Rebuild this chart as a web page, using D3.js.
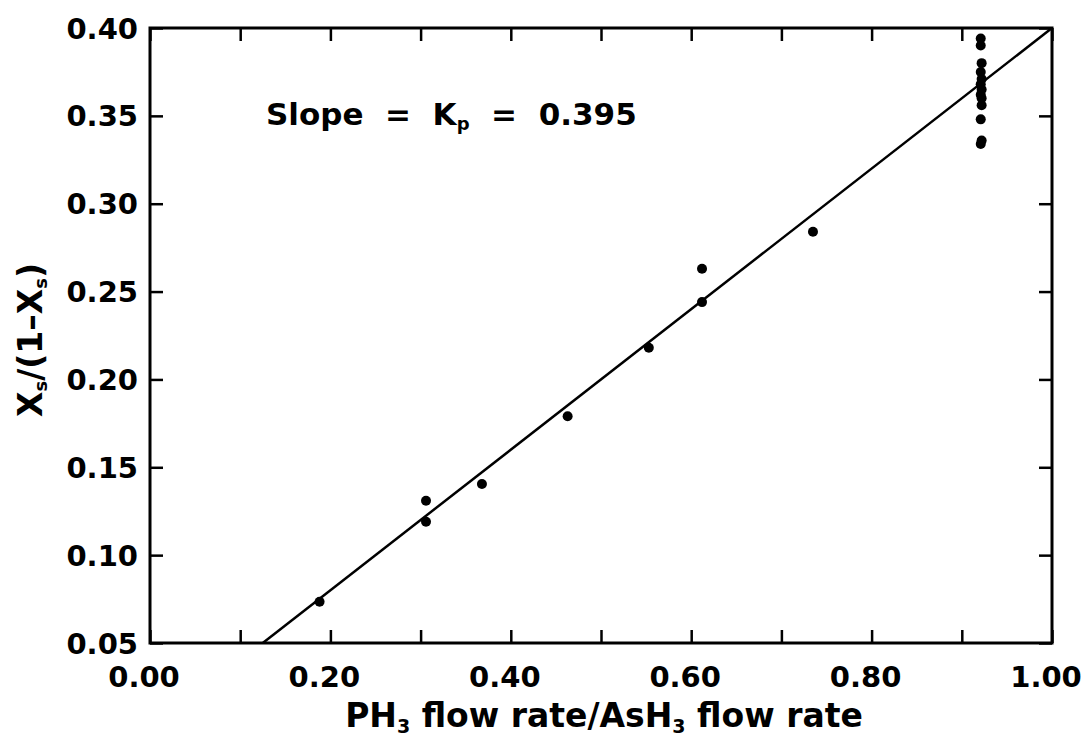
<!DOCTYPE html>
<meta charset="utf-8">
<title>Kp plot</title>
<style>
  body { margin: 0; background: #fff; }
  text { font-family: "DejaVu Sans", sans-serif; font-weight: bold; fill: #000; }
</style>
<body>
<script src="https://d3js.org/d3.v7.min.js"></script>
<script>
// flow-rate ratio vs Xs/(1-Xs)
var ratio = [0.188, 0.306, 0.306, 0.368, 0.463, 0.553, 0.612, 0.612, 0.735,
             0.921, 0.921, 0.922, 0.921, 0.922, 0.921, 0.922, 0.921, 0.922, 0.921, 0.922, 0.921, 0.922];
var xsRatio = [0.0735, 0.131, 0.119, 0.1405, 0.179, 0.218, 0.263, 0.244, 0.284,
               0.394, 0.390, 0.380, 0.375, 0.371, 0.368, 0.365, 0.362, 0.356, 0.348, 0.336, 0.334, 0.360];
var fitX = [0.125, 1.00];
var fitY = [0.05, 0.40];
var xTicks = [0, 0.2, 0.4, 0.6, 0.8, 1.0];
var xMinor = [0.1, 0.3, 0.5, 0.7, 0.9];
var yTicks = [0.05, 0.10, 0.15, 0.20, 0.25, 0.30, 0.35, 0.40];

var W = 1084, H = 745;
var pLeft = 150, pRight = 1052, pTop = 28, pBottom = 643;

var svg = d3.select('body').append('svg')
  .attr('width', W)
  .attr('height', H);

var x = d3.scaleLinear().domain([0, 1]).range([pLeft, pRight]);
var y = d3.scaleLinear().domain([0.05, 0.40]).range([pBottom, pTop]);

var tickLen = 13;
// axes, ticks inward on all four sides
svg.append('g').attr('transform', 'translate(0,' + pBottom + ')')
  .call(d3.axisTop(x).tickValues(xTicks.concat(xMinor)).tickSize(tickLen).tickFormat(''));
svg.append('g').attr('transform', 'translate(0,' + pTop + ')')
  .call(d3.axisBottom(x).tickValues(xTicks.concat(xMinor)).tickSize(tickLen).tickFormat(''));
svg.append('g').attr('transform', 'translate(' + pLeft + ',0)')
  .call(d3.axisRight(y).tickValues(yTicks).tickSize(tickLen).tickFormat(''));
svg.append('g').attr('transform', 'translate(' + pRight + ',0)')
  .call(d3.axisLeft(y).tickValues(yTicks).tickSize(tickLen).tickFormat(''));
svg.selectAll('.domain').remove();
svg.selectAll('.tick line').attr('stroke', '#000').attr('stroke-width', 2.5);

svg.append('rect')
  .attr('x', pLeft).attr('y', pTop)
  .attr('width', pRight - pLeft).attr('height', pBottom - pTop)
  .attr('fill', 'none').attr('stroke', '#000').attr('stroke-width', 3);

// tick labels
svg.selectAll('.xl').data(xTicks).enter().append('text')
  .attr('x', function(d){ return x(d) - 6; })
  .attr('y', 687)
  .attr('text-anchor', 'middle')
  .style('font-size', '29px')
  .text(function(d){ return d.toFixed(2); });

svg.selectAll('.yl').data(yTicks).enter().append('text')
  .attr('x', 138)
  .attr('y', function(d){ return y(d) + 10.5; })
  .attr('text-anchor', 'end')
  .style('font-size', '29px')
  .text(function(d){ return d.toFixed(2); });

// fit line
svg.append('line')
  .attr('x1', x(fitX[0])).attr('y1', y(fitY[0]))
  .attr('x2', x(fitX[1])).attr('y2', y(fitY[1]))
  .attr('stroke', '#000').attr('stroke-width', 2.5);

// points
svg.selectAll('circle').data(ratio).enter().append('circle')
  .attr('cx', function(d){ return x(d); })
  .attr('cy', function(d, i){ return y(xsRatio[i]); })
  .attr('r', 5)
  .attr('fill', '#000');

// axis titles
var xt = svg.append('text')
  .attr('x', 604)
  .attr('y', 727)
  .attr('text-anchor', 'middle')
  .style('font-size', '33px');
xt.append('tspan').text('PH');
xt.append('tspan').text('3').style('font-size', '19px').attr('dy', 6);
xt.append('tspan').text(' flow rate/AsH').attr('dy', -6);
xt.append('tspan').text('3').style('font-size', '19px').attr('dy', 6);
xt.append('tspan').text(' flow rate').attr('dy', -6);

var yt = svg.append('text')
  .attr('transform', 'translate(42,340) rotate(-90)')
  .attr('text-anchor', 'middle')
  .style('font-size', '33px');
yt.append('tspan').text('X');
yt.append('tspan').text('s').style('font-size', '18px').attr('dy', 5);
yt.append('tspan').text('/(1\u2013X').attr('dy', -5);
yt.append('tspan').text('s').style('font-size', '18px').attr('dy', 5);
yt.append('tspan').text(')').attr('dy', -5);

// annotation
var ann = svg.append('text')
  .attr('x', 266)
  .attr('y', 125)
  .style('font-size', '31px')
  .attr('xml:space', 'preserve');
ann.append('tspan').text('Slope  =  K');
ann.append('tspan').text('p').style('font-size', '18px').attr('dy', 5);
ann.append('tspan').text('  =  0.395').attr('dy', -5);
</script>
</body>
